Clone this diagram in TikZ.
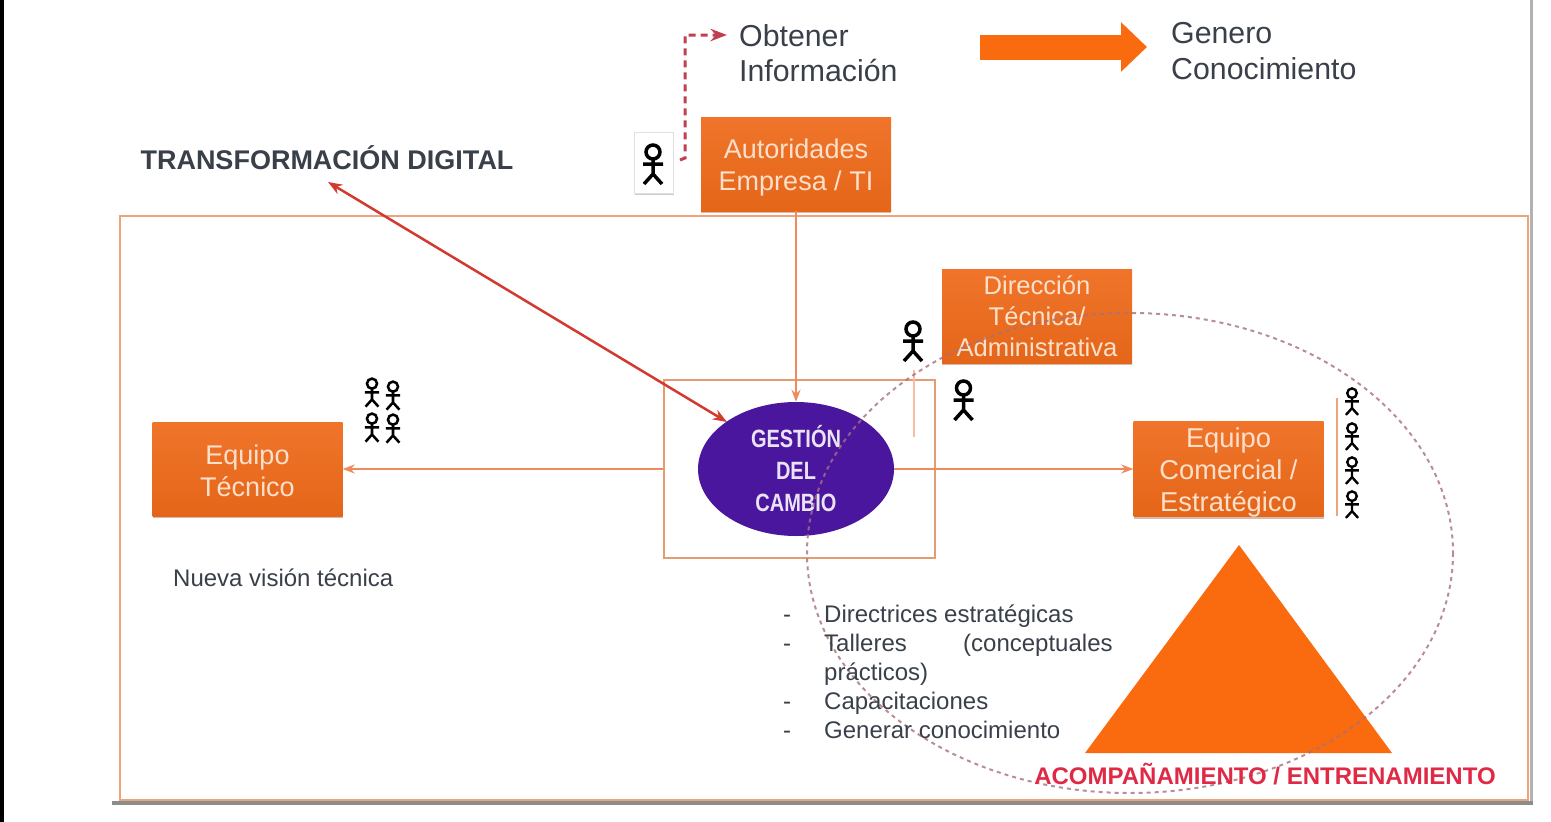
\documentclass[tikz,border=0pt]{standalone}
\usepackage{fontspec}
\setmainfont{Liberation Sans}
\usetikzlibrary{arrows.meta,shadows,shapes.geometric}

\definecolor{naranja}{HTML}{EE6A1A}
\definecolor{triangulo}{HTML}{FA6A0F}
\definecolor{borde}{HTML}{F0A27C}
\definecolor{linea}{HTML}{EE8A5C}
\definecolor{rojo}{HTML}{D23A30}
\definecolor{rojopunto}{HTML}{C0404F}
\definecolor{rojotexto}{HTML}{E02A45}
\definecolor{punteado}{HTML}{A8707C}
\definecolor{morado}{HTML}{4A169E}
\definecolor{letra}{HTML}{FCE0CC}
\definecolor{gris}{HTML}{39404A}

\newcommand{\bajar}[1]{\rule{0pt}{#1pt}}

\tikzset{
  caja/.style={top color=naranja!93!white, middle color=naranja, bottom color=naranja!96!black,
    minimum width=190pt, minimum height=94pt, align=center,
    text=letra, inner sep=0pt, font=\fontsize{27}{32}\selectfont,
    drop shadow={shadow xshift=0pt, shadow yshift=-2pt, fill=naranja!40!gray, opacity=.5}},
  texto/.style={text=gris, inner sep=0pt, font=\fontsize{24}{29}\selectfont},
  lista/.style={texto, anchor=base west},
  grande/.style={texto, anchor=west, font=\fontsize{30.3}{35.5}\selectfont, align=left},
  stickman/.pic={
    \draw[black, line width=#1*3.5pt] (0,-#1*13) circle[radius=#1*7];
    \draw[black, line width=#1*3.5pt] (0,-#1*6) -- (0,#1*9) (-#1*10,-#1*1) -- (#1*10,-#1*1)
      (-#1*9,#1*19) -- (0,#1*9) -- (#1*9,#1*19);
  }
}

\begin{document}
\begin{tikzpicture}[x=1pt,y=-1pt,>=Stealth]
  \useasboundingbox (0,0) rectangle (1551,822);

  % --- page edges -------------------------------------------------
  \fill[black] (0,0) rectangle (4,822);
  \draw[black!30, line width=2.5pt] (1531.5,0) -- (1531.5,802);

  % --- outer frame ------------------------------------------------
  \draw[borde, line width=2pt] (120,216) rectangle (1528,800);
  \draw[gray!90, line width=4pt] (112,802.5) -- (1533,802.5);
  \node[draw=borde!80!brown, line width=2pt, minimum width=271pt, minimum height=178pt, inner sep=0pt] (marco) at (799.5,469) {};

  % --- top legend -------------------------------------------------
  \node[grande] (obtener) at (739,53) {Obtener\\Información};
  \node[grande] (genero) at (1171,51) {Genero\\Conocimiento};
  \coordinate (flechaA) at (980,47);
  \coordinate (flechaB) at (1147,47);
  \draw[triangulo, line width=25pt, -{Triangle[length=26pt,width=48pt]}] (flechaA) -- (flechaB);

  \node[font=\bfseries\fontsize{27}{32}\selectfont, text=gris, inner sep=0pt] (digital) at (327,158) {TRANSFORMACIÓN DIGITAL};

  % --- boxes ------------------------------------------------------
  \node[caja] (autoridades) at (796,164) {\bajar{27}Autoridades\\Empresa / TI};
  \node[caja, font=\fontsize{25.6}{31}\selectfont] (direccion) at (1037,316) {Dirección\\Técnica/\\Administrativa};
  \node[caja] (tecnico) at (247.5,469) {\bajar{24}Equipo\\Técnico};
  \node[caja, font=\fontsize{27.3}{32}\selectfont] (comercial) at (1228.5,469) {\bajar{26}Equipo\\Comercial /\\Estratégico};
  \node[ellipse, fill=morado, minimum width=196pt, minimum height=134pt, inner sep=0pt, align=center,
    text=white!88!morado, font=\bfseries\fontsize{25}{32}\selectfont] (gestion) at (796,469)
    {\scalebox{.8}[1]{GESTIÓN}\\\scalebox{.8}[1]{DEL}\\\scalebox{.8}[1]{CAMBIO}};

  % --- triangle ---------------------------------------------------
  \fill[triangulo] (1239,545) -- (1392,753) -- (1085,753) -- cycle;

  % --- connectors -------------------------------------------------
  \draw[->, linea, line width=2pt] (autoridades.south) -- (gestion.north);
  \draw[->, linea, line width=2pt] (marco.west) -- (tecnico.east);
  \draw[->, linea, line width=2pt] (gestion.east) -- (comercial.west);
  \coordinate (digitalpunta) at (328,182);
  \coordinate (gestionpunta) at (727,422);
  \draw[<->, rojo, line width=2.5pt] (digitalpunta) -- (gestionpunta);

  \coordinate (dashA) at (680,160);
  \coordinate (dashB) at (685,35);
  \coordinate (dashC) at (727,35);
  \draw[->, rojopunto, line width=3pt, dash pattern=on 7pt off 5pt] (dashA) -- (685,158) -- (dashB) -- (dashC);

  \draw[borde, line width=2.5pt] (1337,398) -- (1337,516);
  \draw[borde!70, line width=2pt] (914,370) -- (914,437);

  % --- people -----------------------------------------------------
  \node[fill=white, draw=black!12, minimum width=39pt, minimum height=61pt, inner sep=0pt,
    drop shadow={shadow xshift=0pt, shadow yshift=-2pt, fill=black!40}] (tarjeta) at (654,162.5) {};
  \path (653,165) pic {stickman=1};
  \path (913,342) pic {stickman=1};
  \path (963.5,401) pic {stickman=1};

  \foreach \px/\py in {372/393,393/396,372/428,393/429}
    \path (\px,\py) pic {stickman=.72};
  \foreach \py in {402,437,471,505}
    \path (1352,\py) pic {stickman=.68};

  % --- dotted ellipse ---------------------------------------------
  \draw[punteado, opacity=.8, line width=2pt, dash pattern=on 4pt off 4pt] (1130,553) ellipse[x radius=323, y radius=240];

  % --- texts ------------------------------------------------------
  \node[lista] (vision) at (173,586) {Nueva visión técnica};
  \foreach \py/\nombre in {622/a,651/b,709/c,738/d}
    \node[texto, anchor=base] (guion\nombre) at (787,\py) {-};
  \node[lista] (directrices) at (824,622) {Directrices estratégicas};
  \node[lista] (talleres) at (824,651) {Talleres};
  \node[lista] (conceptuales) at (963,651) {(conceptuales};
  \node[lista] (practicos) at (824,680) {prácticos)};
  \node[lista] (capacitaciones) at (824,709) {Capacitaciones};
  \node[lista] (generar) at (824,738) {Generar conocimiento};
  \node[text=rojotexto, inner sep=0pt, anchor=base, font=\bfseries\fontsize{24}{29}\selectfont] (acompana) at (1265,784) {ACOMPAÑAMIENTO / ENTRENAMIENTO};
\end{tikzpicture}
\end{document}
